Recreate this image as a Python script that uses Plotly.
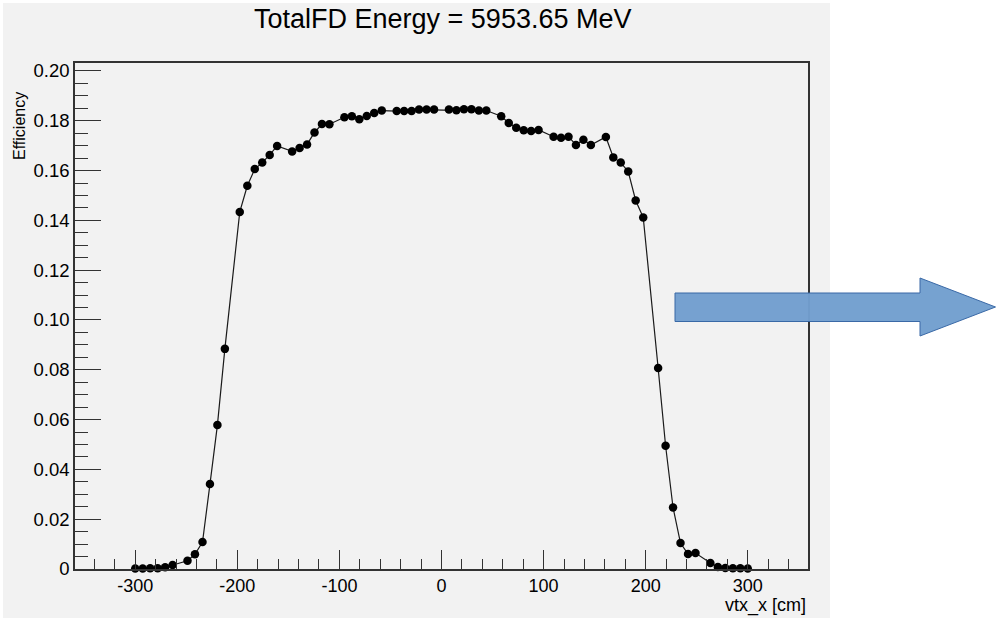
import plotly.graph_objects as go

# x positions of the measured points (cm)
vtx_x = [-300.0, -292.7, -285.4, -278.0, -270.7, -263.4,
         -248.8, -241.5, -234.1, -226.8, -219.5, -212.2,
         -197.6, -190.2, -182.9, -175.6, -168.3, -161.0,
         -146.3, -139.0, -131.7, -124.4, -117.1, -109.8,
         -95.1, -87.8, -80.5, -73.2, -65.9, -58.5,
         -43.9, -36.6, -29.3, -22.0, -14.6, -7.3,
         7.3, 14.6, 22.0, 29.3, 36.6, 43.9,
         58.5, 65.9, 73.2, 80.5, 87.8, 95.1,
         109.8, 117.1, 124.4, 131.7, 139.0, 146.3,
         161.0, 168.3, 175.6, 182.9, 190.2, 197.6,
         212.2, 219.5, 226.8, 234.1, 241.5, 248.8,
         263.4, 270.7, 278.0, 285.4, 292.7, 300.0]

efficiency = [0.0002, 0.0002, 0.0003, 0.0003, 0.0007, 0.0016,
              0.0033, 0.0059, 0.0108, 0.0341, 0.0578, 0.0884,
              0.1434, 0.1539, 0.1606, 0.1632, 0.1663, 0.1699,
              0.1677, 0.1691, 0.1705, 0.1753, 0.1787, 0.1786,
              0.1814, 0.1818, 0.1806, 0.1819, 0.1831, 0.1841,
              0.1839, 0.1839, 0.1839, 0.1845, 0.1845, 0.1845,
              0.1845, 0.1842, 0.1846, 0.1846, 0.1841, 0.1841,
              0.1818, 0.1791, 0.1772, 0.1762, 0.1759, 0.1763,
              0.1736, 0.1732, 0.1736, 0.1703, 0.1724, 0.1703,
              0.1735, 0.1653, 0.1632, 0.1596, 0.1480, 0.1412,
              0.0807, 0.0495, 0.0247, 0.0104, 0.0060, 0.0064,
              0.0024, 0.0008, 0.0004, 0.0003, 0.0003, 0.0002]

x_ticks = [-300, -200, -100, 0, 100, 200, 300]
x_tick_labels = ["-300", "-200", "-100", "0", "100", "200", "300"]
y_ticks = [0, 0.02, 0.04, 0.06, 0.08, 0.10, 0.12, 0.14, 0.16, 0.18, 0.20]
y_tick_labels = ["0", "0.02", "0.04", "0.06", "0.08", "0.10", "0.12",
                 "0.14", "0.16", "0.18", "0.20"]

title_text = "TotalFD Energy = 5953.65 MeV"
x_title = "vtx_x [cm]"
y_title = "Efficiency"

FONT = "Liberation Sans, Arial, Helvetica, sans-serif"
BG = "#f2f2f2"
AX = "#333333"

W, H = 996, 618
L, R, T, B = 75, 188, 63, 49
pw, ph = W - L - R, H - T - B


def px(xp):
    return (xp - L) / pw


def py(yp):
    return (H - B - yp) / ph


fig = go.Figure()
fig.add_trace(go.Scatter(
    x=vtx_x, y=efficiency, mode="lines+markers",
    line=dict(color="#1a1a1a", width=1.2),
    marker=dict(color="black", size=8.5),
    showlegend=False, cliponaxis=False,
))

fig.update_layout(
    width=W, height=H,
    margin=dict(l=L, r=R, t=T, b=B, pad=0),
    paper_bgcolor="white", plot_bgcolor=BG,
    font=dict(family=FONT, color="black"),
    showlegend=False,
)

fig.update_xaxes(
    range=[-359, 359], showgrid=False, zeroline=False,
    showline=True, linecolor=AX, linewidth=1.5, mirror=True,
    tickmode="array", tickvals=x_ticks, ticktext=x_tick_labels,
    ticks="inside", ticklen=19, tickwidth=1, tickcolor=AX,
    tickfont=dict(size=18, family=FONT, color="black"),
    minor=dict(ticks="inside", ticklen=10, dtick=20, tick0=0,
               tickcolor=AX, tickwidth=1, showgrid=False),
)
fig.update_yaxes(
    range=[0, 0.2032], showgrid=False, zeroline=False,
    showline=True, linecolor=AX, linewidth=1.5, mirror=True,
    tickmode="array", tickvals=y_ticks, ticktext=y_tick_labels,
    ticks="inside", ticklen=26, tickwidth=1, tickcolor=AX,
    tickfont=dict(size=18.5, family=FONT, color="black"),
    minor=dict(ticks="inside", ticklen=13, dtick=0.005, tick0=0,
               tickcolor=AX, tickwidth=1, showgrid=False),
)

# gray canvas panel
fig.add_shape(type="rect", xref="paper", yref="paper",
              x0=px(3), x1=px(830), y0=py(620), y1=py(3),
              fillcolor=BG, line=dict(width=0), layer="below")

# arrow
fig.add_shape(type="path", xref="paper", yref="paper",
              path=(f"M {px(675)},{py(293)} L {px(920)},{py(293)} "
                    f"L {px(920)},{py(278)} L {px(995.5)},{py(307)} "
                    f"L {px(920)},{py(336)} L {px(920)},{py(321.5)} "
                    f"L {px(675)},{py(321.5)} Z"),
              fillcolor="#729fcf", line=dict(color="#3465a4", width=1),
              opacity=0.97, layer="above")

fig.add_annotation(text=title_text, xref="paper", yref="paper",
                   x=px(442), y=py(19), xanchor="center", yanchor="middle",
                   showarrow=False, font=dict(size=27, family=FONT, color="black"))
fig.add_annotation(text=y_title, xref="paper", yref="paper",
                   x=px(20), y=py(126), xanchor="center", yanchor="middle",
                   textangle=-90, showarrow=False,
                   font=dict(size=16, family=FONT, color="black"))
fig.add_annotation(text=x_title, xref="paper", yref="paper",
                   x=px(808), y=py(605), xanchor="right", yanchor="middle",
                   showarrow=False, font=dict(size=18, family=FONT, color="black"))

fig.write_html("out.html", config={"displayModeBar": False},
               post_script="document.body.style.margin='0';")
